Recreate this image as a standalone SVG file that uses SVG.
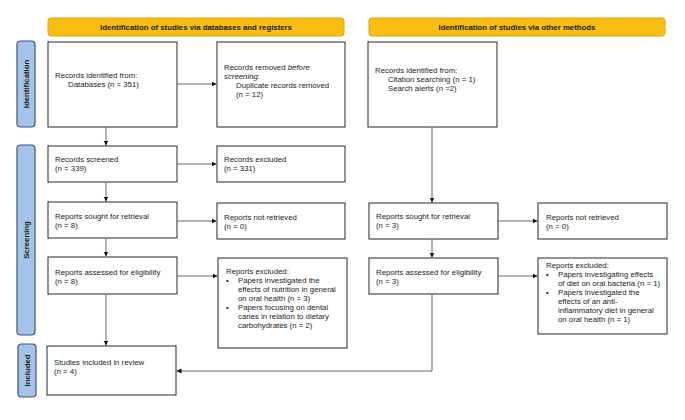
<svg xmlns="http://www.w3.org/2000/svg" width="685" height="420" viewBox="0 0 685 420">
<style>
.box{fill:#fff;stroke:#3a3a3a;stroke-width:1.1}
.hdr{fill:#F8BE14;stroke:#E0A30A;stroke-width:1}
.side{fill:#A3C3E8;stroke:#3E5670;stroke-width:1.2}
text{font-family:"Liberation Sans",Arial,sans-serif;font-size:7.8px;fill:#222}
.b{font-weight:bold;font-size:7.8px;fill:#1a1a1a}
.c{stroke:#666;stroke-width:1;fill:none}
</style>
<defs>
<marker id="ah" markerWidth="6" markerHeight="6" refX="5" refY="3" orient="auto" markerUnits="userSpaceOnUse">
<path d="M0,0.6 L5,3 L0,5.4 Z" fill="#111"/>
</marker>
</defs>
<rect width="685" height="420" fill="#fff"/>
<g id="hdr-left"><rect class="hdr" x="48" y="18" width="296" height="18" rx="3"/><text class="b" x="196" y="30" text-anchor="middle">Identification of studies via databases and registers</text></g>
<g id="hdr-right"><rect class="hdr" x="369" y="18" width="296" height="18" rx="3"/><text class="b" x="517" y="30" text-anchor="middle">Identification of studies via other methods</text></g>
<g id="side-identification"><rect class="side" x="17" y="41" width="18" height="86" rx="3.5"/><text class="b" transform="translate(29,84) rotate(-90)" text-anchor="middle">Identification</text></g>
<g id="side-screening"><rect class="side" x="17" y="145" width="18" height="190" rx="3.5"/><text class="b" transform="translate(29,240) rotate(-90)" text-anchor="middle">Screening</text></g>
<g id="side-included"><rect class="side" x="18" y="344" width="18" height="53" rx="3.5"/><text class="b" transform="translate(30,370.5) rotate(-90)" text-anchor="middle">Included</text></g>

<g id="n-identified"><rect class="box" x="48" y="42" width="129" height="85"/><text x="55" y="78">Records identified from:</text><text x="68" y="87">Databases (n = 351)</text></g>
<g id="n-removed"><rect class="box" x="217" y="42" width="128" height="85"/><text x="224" y="70">Records removed <tspan font-style="italic">before</tspan></text><text x="224" y="79"><tspan font-style="italic">screening</tspan>:</text><text x="236" y="88">Duplicate records removed</text><text x="236" y="97">(n = 12)</text></g>
<g id="n-other"><rect class="box" x="368" y="42" width="129" height="85"/><text x="375" y="73">Records identified from:</text><text x="388" y="82">Citation searching (n = 1)</text><text x="388" y="91">Search alerts (n =2)</text></g>

<g id="n-screened"><rect class="box" x="48" y="146" width="129" height="36"/><text x="55" y="162">Records screened</text><text x="55" y="171">(n = 339)</text></g>
<g id="n-excluded"><rect class="box" x="217" y="146" width="128" height="36"/><text x="224" y="162">Records excluded</text><text x="224" y="171">(n = 331)</text></g>

<g id="n-sought-l"><rect class="box" x="48" y="202" width="129" height="36"/><text x="55" y="219">Reports sought for retrieval</text><text x="55" y="228">(n = 8)</text></g>
<g id="n-notret-l"><rect class="box" x="217" y="203" width="128" height="36"/><text x="224" y="220">Reports not retrieved</text><text x="224" y="229">(n = 0)</text></g>
<g id="n-assessed-l"><rect class="box" x="48" y="257" width="129" height="37"/><text x="55" y="275">Reports assessed for eligibility</text><text x="55" y="284">(n = 8)</text></g>
<g id="n-excl-l"><rect class="box" x="218" y="258" width="129" height="90"/>
<text x="226" y="274">Reports excluded:</text>
<text x="226" y="283">•</text><text x="238" y="283">Papers investigated the</text>
<text x="238" y="292">effects of nutrition in general</text>
<text x="238" y="301">on oral health (n = 3)</text>
<text x="226" y="310">•</text><text x="238" y="310">Papers focusing on dental</text>
<text x="238" y="319">caries in relation to dietary</text>
<text x="238" y="328">carbohydrates (n = 2)</text></g>

<g id="n-sought-r"><rect class="box" x="369" y="203" width="129" height="36"/><text x="376" y="219">Reports sought for retrieval</text><text x="376" y="228">(n = 3)</text></g>
<g id="n-notret-r"><rect class="box" x="538" y="203" width="129" height="36"/><text x="546" y="220">Reports not retrieved</text><text x="546" y="229">(n = 0)</text></g>
<g id="n-assessed-r"><rect class="box" x="369" y="258" width="129" height="36"/><text x="376" y="275">Reports assessed for eligibility</text><text x="376" y="284">(n = 3)</text></g>
<g id="n-excl-r"><rect class="box" x="538" y="258" width="129" height="76"/>
<text x="546" y="268">Reports excluded:</text>
<text x="546" y="277">•</text><text x="558" y="277">Papers investigating effects</text>
<text x="558" y="286">of diet on oral bacteria (n = 1)</text>
<text x="546" y="295">•</text><text x="558" y="295">Papers investigated the</text>
<text x="558" y="304">effects of an anti-</text>
<text x="558" y="313">inflammatory diet in general</text>
<text x="558" y="322">on oral health (n = 1)</text></g>

<g id="n-included"><rect class="box" x="47" y="346" width="129" height="49"/><text x="54" y="365">Studies included in review</text><text x="54" y="374">(n = 4)</text></g>

<g id="connectors">
<path class="c" d="M177,84 H216.5" marker-end="url(#ah)"/>
<path class="c" d="M106,127 V145.5" marker-end="url(#ah)"/>
<path class="c" d="M177,164 H216.5" marker-end="url(#ah)"/>
<path class="c" d="M106,182 V201.5" marker-end="url(#ah)"/>
<path class="c" d="M177,221 H216.5" marker-end="url(#ah)"/>
<path class="c" d="M106,238 V256.5" marker-end="url(#ah)"/>
<path class="c" d="M177,276 H217.5" marker-end="url(#ah)"/>
<path class="c" d="M106,294 V345.5" marker-end="url(#ah)"/>
<path class="c" d="M432,127 V202.5" marker-end="url(#ah)"/>
<path class="c" d="M498,221 H537.5" marker-end="url(#ah)"/>
<path class="c" d="M432,239 V257.5" marker-end="url(#ah)"/>
<path class="c" d="M498,276 H537.5" marker-end="url(#ah)"/>
<path class="c" d="M432,294 V371 H176.5" marker-end="url(#ah)"/>
</g>
</svg>
